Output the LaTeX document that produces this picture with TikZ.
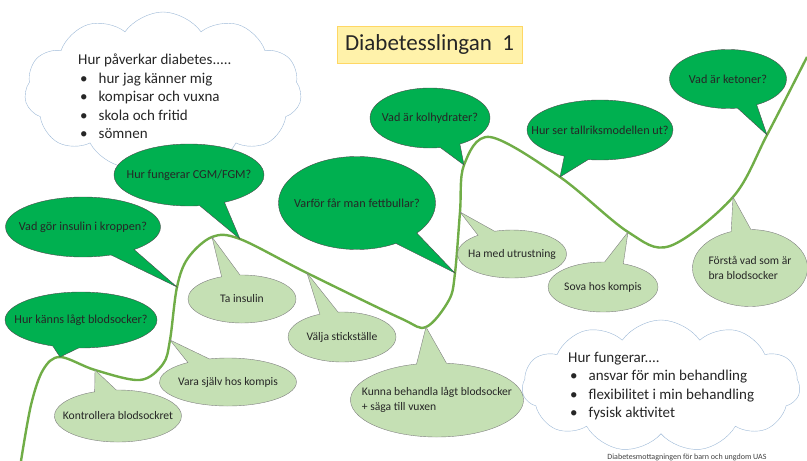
\documentclass[tikz,border=0pt]{standalone}
\usepackage{fontspec}
\setmainfont{Carlito}
\usetikzlibrary{shapes.callouts,shapes.symbols}

\definecolor{darkleaf}{RGB}{0,176,80}
\definecolor{paleleaf}{RGB}{197,224,180}
\definecolor{stemgreen}{RGB}{112,173,71}
\definecolor{cloudedge}{RGB}{157,185,215}
\definecolor{titlefill}{RGB}{255,242,170}
\definecolor{titleedge}{RGB}{255,215,100}

\tikzstyle{darkbubble} = [ellipse callout, draw=black!70, fill=darkleaf, inner xsep=-30pt, inner ysep=0pt, callout pointer arc=20, font=\fontsize{12.2}{14.5}\selectfont, text=black!85]
\tikzstyle{palebubble} = [ellipse callout, draw=black!50, fill=paleleaf, inner xsep=-30pt, inner ysep=0pt, callout pointer arc=20, font=\fontsize{11.6}{14.5}\selectfont, text=black!85]
\tikzstyle{thoughtcloud} = [cloud, cloud puffs=11, cloud puff arc=110, cloud ignores aspect, draw=cloudedge, fill=white]
\tikzstyle{cloudtext} = [inner sep=0pt, align=left, anchor=north west, font=\fontsize{15}{18.5}\selectfont, text=black!85]
\tikzstyle{titlebox} = [draw=titleedge, fill=titlefill, thick, minimum width=185pt, minimum height=37pt, font=\fontsize{23}{26}\selectfont, text=black!85]
\tikzstyle{smallprint} = [font=\fontsize{8}{9}\selectfont, text=black!75]

\newcommand{\blt}{\hspace*{2pt}\textbullet\hspace{11pt}}

\begin{document}
\begin{tikzpicture}[x=1pt, y=-1pt]
\useasboundingbox (0,0) rectangle (807,461);

% points on the curve
\coordinate (tipa) at (60,357);
\coordinate (tipb) at (95,370);
\coordinate (tipc) at (170,340);
\coordinate (tipd) at (177,287);
\coordinate (tipe) at (212,237);
\coordinate (tipf) at (240,239);
\coordinate (tipg) at (307,273);
\coordinate (tiph) at (426,327);
\coordinate (tipi) at (455,273);
\coordinate (tipj) at (460,212);
\coordinate (tipk) at (464,165);
\coordinate (tipl) at (560,177);
\coordinate (tipm) at (628,232);
\coordinate (tipn) at (733,197);
\coordinate (tipo) at (767,135);

\draw[stemgreen, line width=2.4pt] plot[smooth, tension=0.55] coordinates {%
  (21,461) (31,405) (43,370) (tipa) (tipb) (140,380) (163,364) (tipc) (tipd)
  (188,258) (tipe) (tipf) (tipg) (400,318) (tiph) (449,300) (tipi) (tipj) (tipk)
  (490,137) (tipl) (tipm) (670,246) (tipn) (tipo) (807,57)};

\node[titlebox] (title) at (429.5,44.5) {Diabetesslingan\ \ 1};

\node[thoughtcloud, minimum width=277pt, minimum height=158pt] (worries) at (163,91) {};
\node[cloudtext] (worrylist) at (78,54) {%
Hur påverkar diabetes.....\\
\blt hur jag känner mig\\
\blt kompisar och vuxna\\
\blt skola och fritid\\
\blt sömnen};
\node[thoughtcloud, minimum width=278pt, minimum height=132pt] (treatment) at (661,386) {};
\node[cloudtext] (treatlist) at (568,352) {%
Hur fungerar....\\
\blt ansvar för min behandling\\
\blt flexibilitet i min behandling\\
\blt fysisk aktivitet};

\node[darkbubble, minimum width=152pt, minimum height=56pt, callout absolute pointer={(tipa)}] (lowfeel) at (81,320) {Hur känns lågt blodsocker?};
\node[darkbubble, minimum width=155pt, minimum height=60pt, callout absolute pointer={(tipd)}] (insulinbody) at (83,227) {Vad gör insulin i kroppen?};
\node[darkbubble, minimum width=150pt, minimum height=62pt, callout absolute pointer={(tipf)}] (cgm) at (189,175) {Hur fungerar CGM/FGM?};
\node[darkbubble, minimum width=157pt, minimum height=93pt, callout absolute pointer={(tipi)}] (fatlumps) at (357,203) {Varför får man fettbullar?\hspace{12pt}};
\node[darkbubble, minimum width=120pt, minimum height=60pt, callout absolute pointer={(tipk)}] (carbs) at (430,118) {Vad är kolhydrater?};
\node[darkbubble, minimum width=146pt, minimum height=60pt, callout absolute pointer={(tipl)}] (plate) at (600,130) {Hur ser tallriksmodellen ut?};
\node[darkbubble, minimum width=117pt, minimum height=59pt, callout absolute pointer={(tipo)}] (ketones) at (728,79) {Vad är ketoner?};

\node[palebubble, minimum width=127pt, minimum height=52pt, callout absolute pointer={(tipb)}] (check) at (118,416) {Kontrollera blodsockret};
\node[palebubble, minimum width=137pt, minimum height=48pt, callout absolute pointer={(tipc)}] (alone) at (228,382) {Vara själv hos kompis};
\node[palebubble, minimum width=108pt, minimum height=48pt, callout absolute pointer={(tipe)}] (takeins) at (242,299) {Ta insulin};
\node[palebubble, minimum width=108pt, minimum height=50pt, callout absolute pointer={(tipg)}] (site) at (342,337) {Välja stickställe};
\node[palebubble, minimum width=173pt, minimum height=74pt, align=left, callout absolute pointer={(tiph)}] (treatlow) at (437,400) {Kunna behandla lågt blodsocker\\+ säga till vuxen};
\node[palebubble, minimum width=109pt, minimum height=48pt, callout absolute pointer={(tipj)}] (gear) at (512,254) {Ha med utrustning};
\node[palebubble, minimum width=110pt, minimum height=50pt, callout absolute pointer={(tipm)}] (sleepover) at (603,287) {Sova hos kompis};
\node[palebubble, minimum width=115pt, minimum height=77pt, align=left, callout absolute pointer={(tipn)}] (goodsugar) at (750,268) {Förstå vad som är\\bra blodsocker};

\node[smallprint] (clinic) at (687,457) {Diabetesmottagningen för barn och ungdom UAS};
\end{tikzpicture}
\end{document}
